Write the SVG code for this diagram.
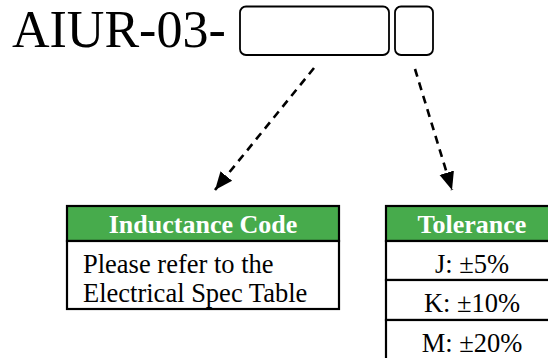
<svg xmlns="http://www.w3.org/2000/svg" width="548" height="358" viewBox="0 0 548 358">
<style>
.t{font-family:"Liberation Serif","Times New Roman",serif;fill:#000}
.hd{font-family:"Liberation Serif","Times New Roman",serif;font-weight:bold;font-size:26px;fill:#fff;text-anchor:middle}
.bd{font-size:26.5px}
.slot{fill:#fff;stroke:#000;stroke-width:1.8}
.cell{fill:#fff;stroke:#000;stroke-width:2.2}
.head{fill:#47AB4C;stroke:#000;stroke-width:2.2}
.conn{fill:none;stroke:#000;stroke-width:2.6;stroke-dasharray:8 6}
</style>
<defs>
<marker id="ah" markerUnits="userSpaceOnUse" markerWidth="20" markerHeight="20" viewBox="0 0 20 20" refX="18" refY="10" orient="auto">
<path d="M0,2.5 L18,10 L0,17.5 Z" fill="#000"/>
</marker>
</defs>
<g id="part-number">
<text class="t" x="12" y="46.5" font-size="52">AIUR-03-</text>
<rect class="slot" x="240" y="6.5" width="149" height="48.5" rx="6"/>
<rect class="slot" x="395" y="6.5" width="38" height="48.5" rx="6"/>
</g>
<g id="connectors">
<path class="conn" d="M314,68 L215,190" marker-end="url(#ah)"/>
<path class="conn" d="M415,69 L452,190" marker-end="url(#ah)"/>
</g>
<g id="inductance-code">
<rect class="head" x="67" y="206" width="272" height="35"/>
<rect class="cell" x="67" y="241" width="272" height="68"/>
<text class="hd" x="203" y="233">Inductance Code</text>
<text class="t bd" x="83" y="273">Please refer to the</text>
<text class="t bd" x="83" y="302">Electrical Spec Table</text>
</g>
<g id="tolerance">
<rect class="head" x="386" y="206" width="172" height="35"/>
<rect class="cell" x="386" y="241" width="172" height="39"/>
<rect class="cell" x="386" y="280" width="172" height="40"/>
<rect class="cell" x="386" y="320" width="172" height="42"/>
<text class="hd" x="472" y="233">Tolerance</text>
<text class="t bd" x="472" y="273" text-anchor="middle">J: ±5%</text>
<text class="t bd" x="472" y="312" text-anchor="middle">K: ±10%</text>
<text class="t bd" x="472" y="352" text-anchor="middle">M: ±20%</text>
</g>
</svg>
